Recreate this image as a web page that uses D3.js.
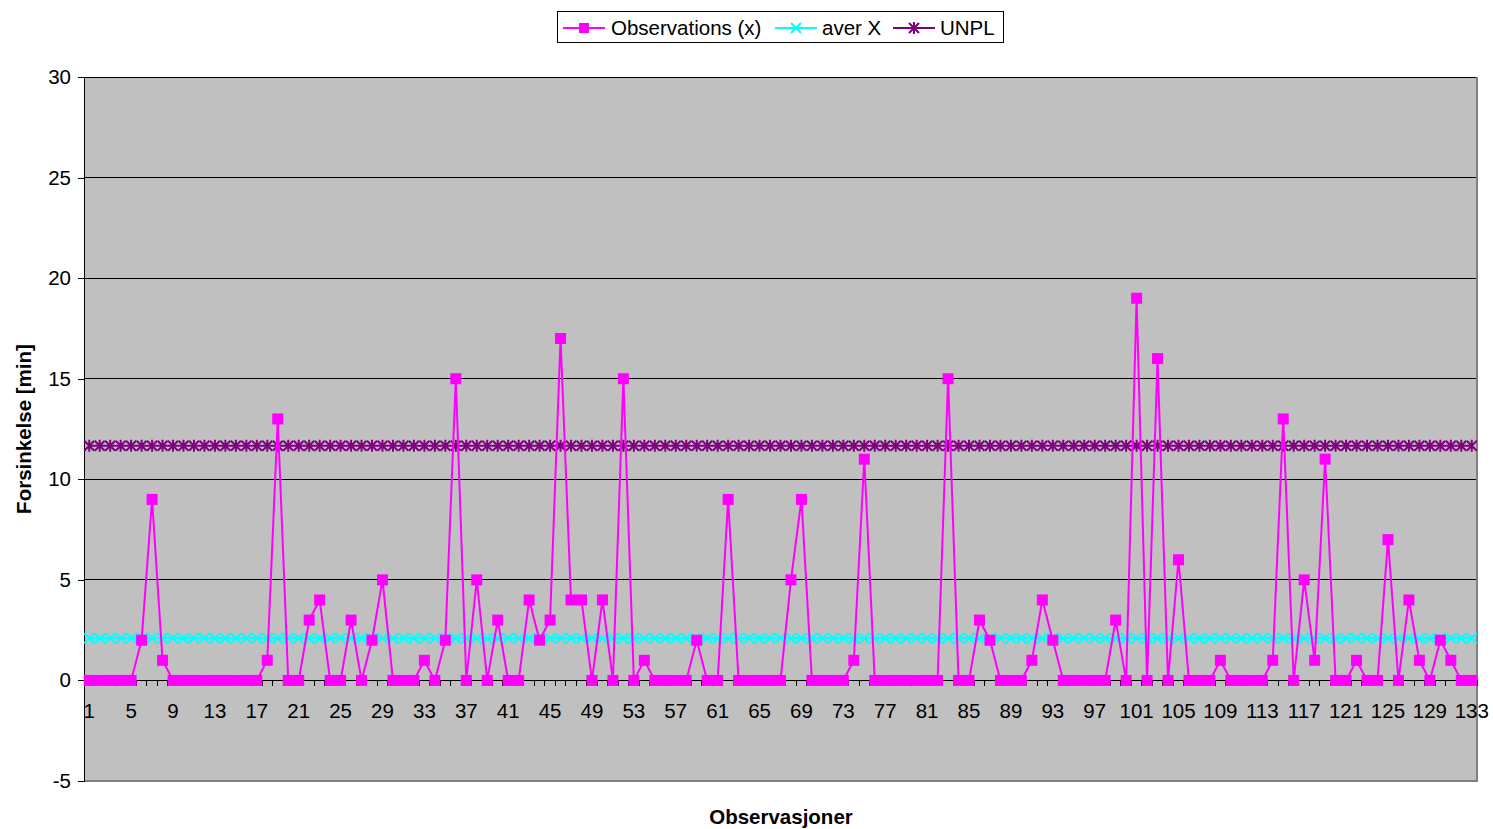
<!DOCTYPE html>
<html>
<head>
<meta charset="utf-8">
<script src="https://cdn.jsdelivr.net/npm/d3@7"></script>
<style>
  body { margin: 0; background: #fff; }
  svg { display: block; font-family: "Liberation Sans", Arial, sans-serif; }
</style>
</head>
<body>
<svg id="chart" width="1493" height="829"></svg>
<script>
// ---- data ----
const observations = [
  0,0,0,0,0,2,9,1,0,0, 0,0,0,0,0,0,0,1,13,0,
  0,3,4,0,0,3,0,2,5,0, 0,0,1,0,2,15,0,5,0,3,
  0,0,4,2,3,17,4,4,0,4, 0,15,0,1,0,0,0,0,2,0,
  0,9,0,0,0,0,0,5,9,0, 0,0,0,1,11,0,0,0,0,0,
  0,0,15,0,0,3,2,0,0,0, 1,4,2,0,0,0,0,0,3,0,
  19,0,16,0,6,0,0,0,1,0, 0,0,0,1,13,0,5,1,11,0,
  0,1,0,0,7,0,4,1,0,2, 1,0,0
];
const categories = observations.map((d, i) => i + 1);
const averX = 2.1;
const unpl = 11.67;
const yTicks = [-5, 0, 5, 10, 15, 20, 25, 30];
const xTickLabels = categories.filter(c => (c - 1) % 4 === 0);
const seriesNames = ["Observations (x)", "aver X", "UNPL"];

// ---- layout ----
const FS = 20.5;
const svg = d3.select("#chart");
const L = 84, T = 77, R = 1477, B = 781;
const x = d3.scaleBand().domain(categories).range([L, R]).paddingInner(0).paddingOuter(0);
const y = d3.scaleLinear().domain([-5, 30]).range([B, T]);
const cx = c => x(c) + x.bandwidth() / 2;

// plot background
svg.append("rect").attr("x", L).attr("y", T).attr("width", R - L).attr("height", B - T)
  .attr("fill", "#C0C0C0");

// gridlines
svg.append("g").selectAll("line").data(yTicks.filter(t => t > 0)).join("line")
  .attr("x1", L).attr("x2", R).attr("y1", d => y(d)).attr("y2", d => y(d))
  .attr("stroke", "#000").attr("stroke-width", 1).attr("shape-rendering", "crispEdges");

// border right & bottom
svg.append("path").attr("d", `M${L},${B}H${R}V${T}`).attr("fill", "none")
  .attr("stroke", "#808080").attr("stroke-width", 2).attr("shape-rendering", "crispEdges");

// y axis
const yAxis = d3.axisLeft(y).tickValues(yTicks).tickSize(6).tickPadding(7)
  .tickFormat(d => String(d));
const gy = svg.append("g").attr("transform", `translate(${L},0)`).call(yAxis);
gy.select(".domain").attr("stroke", "#000").attr("shape-rendering", "crispEdges");
gy.selectAll(".tick line").attr("stroke", "#000").attr("shape-rendering", "crispEdges");
gy.selectAll("text").attr("font-size", FS).attr("fill", "#000")
  .attr("font-family", "Liberation Sans, Arial, sans-serif");

// x axis at y = 0: tick marks at band boundaries
const gx = svg.append("g").attr("transform", `translate(0,${y(0)})`);
gx.append("line").attr("x1", L).attr("x2", R).attr("y1", 0).attr("y2", 0)
  .attr("stroke", "#000").attr("shape-rendering", "crispEdges");
gx.selectAll("line.tk").data(categories).join("line").attr("class", "tk")
  .attr("x1", d => x(d) + x.bandwidth()).attr("x2", d => x(d) + x.bandwidth())
  .attr("y1", 0).attr("y2", 6).attr("stroke", "#000").attr("shape-rendering", "crispEdges");
gx.selectAll("text").data(xTickLabels).join("text")
  .attr("x", d => cx(d)).attr("y", 37.5).attr("text-anchor", "middle")
  .attr("font-size", FS).attr("fill", "#000").text(d => d);

// axis titles
svg.append("text").attr("x", 781).attr("y", 824).attr("text-anchor", "middle")
  .attr("font-size", FS).attr("font-weight", "bold").text("Observasjoner");
svg.append("text").attr("transform", `translate(31,${429}) rotate(-90)`)
  .attr("text-anchor", "middle").attr("font-size", FS).attr("font-weight", "bold")
  .text("Forsinkelse [min]");

// ---- series ----
const magenta = "#FF00FF", cyan = "#00FFFF", purple = "#800080";

// aver X line + x markers
svg.append("line").attr("x1", cx(1)).attr("x2", cx(categories.length))
  .attr("y1", y(averX)).attr("y2", y(averX)).attr("stroke", cyan).attr("stroke-width", 2);
const sx = 5;
svg.append("g").selectAll("path").data(categories).join("path")
  .attr("d", d => `M${cx(d) - sx},${y(averX) - sx}L${cx(d) + sx},${y(averX) + sx}M${cx(d) - sx},${y(averX) + sx}L${cx(d) + sx},${y(averX) - sx}`)
  .attr("stroke", cyan).attr("stroke-width", 2).attr("fill", "none");

// UNPL line + asterisk markers
svg.append("line").attr("x1", cx(1)).attr("x2", cx(categories.length))
  .attr("y1", y(unpl)).attr("y2", y(unpl)).attr("stroke", purple).attr("stroke-width", 2);
const sa = 5;
svg.append("g").selectAll("path").data(categories).join("path")
  .attr("d", d => {
    const px = cx(d), py = y(unpl);
    return `M${px - sa},${py - sa}L${px + sa},${py + sa}M${px - sa},${py + sa}L${px + sa},${py - sa}M${px},${py - sa - 1}L${px},${py + sa + 1}`;
  })
  .attr("stroke", purple).attr("stroke-width", 2).attr("fill", "none");

// observations line + square markers
const line = d3.line().x((d, i) => cx(categories[i])).y(d => y(d));
svg.append("path").datum(observations).attr("d", line)
  .attr("fill", "none").attr("stroke", magenta).attr("stroke-width", 2);
const sq = 11;
svg.append("g").selectAll("rect").data(observations).join("rect")
  .attr("x", (d, i) => cx(categories[i]) - sq / 2).attr("y", d => y(d) - sq / 2)
  .attr("width", sq).attr("height", sq).attr("fill", magenta);

// ---- legend ----
const lg = svg.append("g");
lg.append("rect").attr("x", 557.5).attr("y", 11.5).attr("width", 446).attr("height", 31)
  .attr("fill", "#fff").attr("stroke", "#000").attr("stroke-width", 1);
const legendItems = [
  { name: seriesNames[0], color: magenta, x0: 563, tx: 611, marker: "square" },
  { name: seriesNames[1], color: cyan, x0: 775, tx: 822, marker: "x" },
  { name: seriesNames[2], color: purple, x0: 893, tx: 940, marker: "star" }
];
const ly = 28;
legendItems.forEach(it => {
  lg.append("line").attr("x1", it.x0).attr("x2", it.x0 + 42).attr("y1", ly).attr("y2", ly)
    .attr("stroke", it.color).attr("stroke-width", 2);
  const mx = it.x0 + 21;
  if (it.marker === "square") {
    lg.append("rect").attr("x", mx - 5).attr("y", ly - 5).attr("width", 10).attr("height", 10).attr("fill", it.color);
  } else if (it.marker === "x") {
    lg.append("path").attr("d", `M${mx - 5},${ly - 5}L${mx + 5},${ly + 5}M${mx - 5},${ly + 5}L${mx + 5},${ly - 5}`)
      .attr("stroke", it.color).attr("stroke-width", 2);
  } else {
    lg.append("path").attr("d", `M${mx - 5},${ly - 5}L${mx + 5},${ly + 5}M${mx - 5},${ly + 5}L${mx + 5},${ly - 5}M${mx},${ly - 6}L${mx},${ly + 6}`)
      .attr("stroke", it.color).attr("stroke-width", 2);
  }
  lg.append("text").attr("x", it.tx).attr("y", ly + 7).attr("font-size", FS).attr("fill", "#000").text(it.name);
});
</script>
</body>
</html>
